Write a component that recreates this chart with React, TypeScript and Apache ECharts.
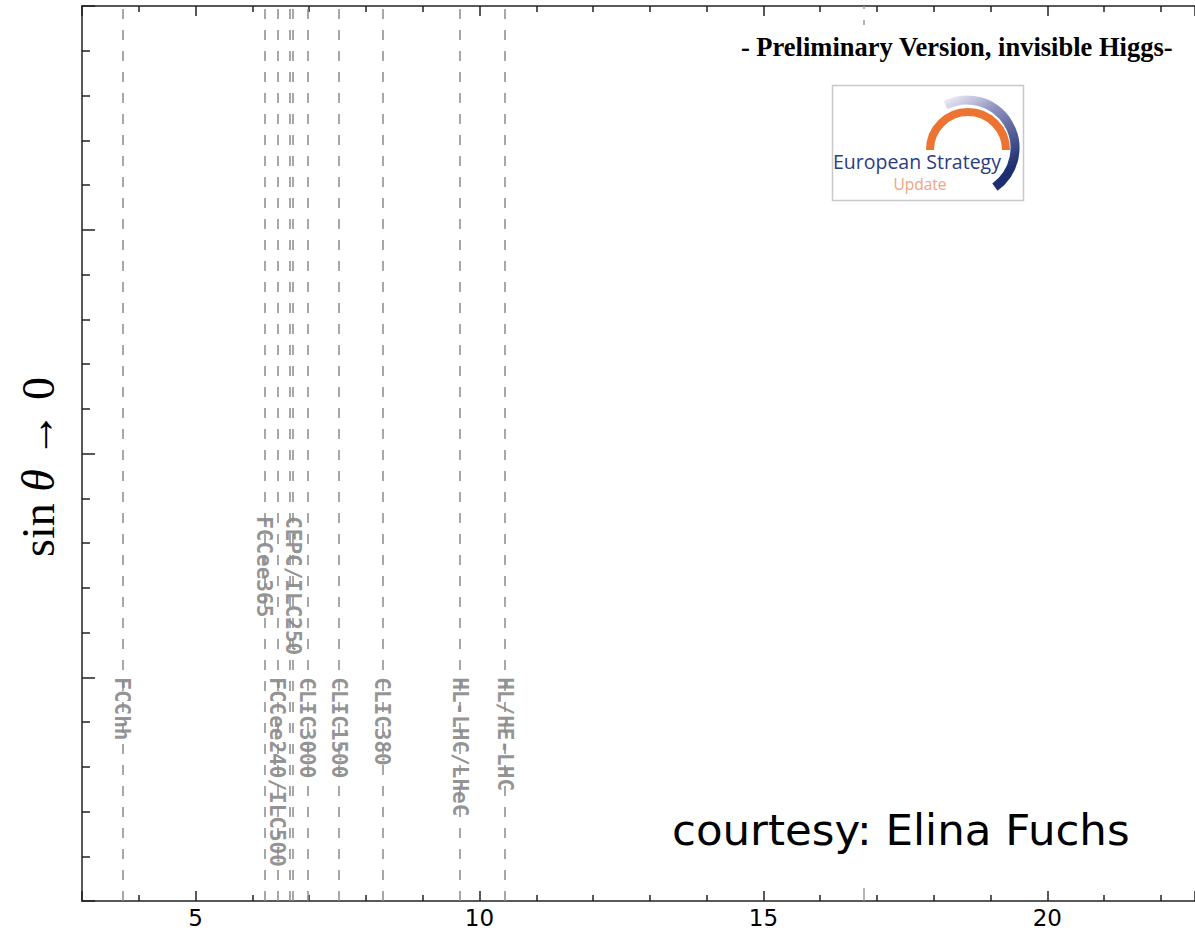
import React, { useEffect, useRef } from "react";
import * as echarts from "echarts";

// Dashed reference lines (x value) and their labels
const lineX = [3.71, 6.21, 6.44, 6.66, 6.71, 6.97, 7.53, 8.29, 9.66, 10.45];
const lineNames = [
  "FCChh",
  "FCCee365",
  "FCCee240/ILC500",
  "",
  "CEPC/ILC250",
  "CLIC3000",
  "CLIC1500",
  "CLIC380",
  "HL-LHC/LHeC",
  "HL/HE-LHC",
];
// y value where each label starts (text runs downward)
const labelY = [1.0, 1.72, 1.0, null, 1.72, 1.0, 1.0, 1.0, 1.0, 1.0];
// faint extra marker in the reference
const extraMarkX = [16.76];

const xMin = 3;
const xMax = 22.6;
const yMin = 0;
const yMax = 4;

const titleText = "- Preliminary Version, invisible Higgs-";
const courtesyText = "courtesy: Elina Fuchs";

export default function App() {
  const ref = useRef<HTMLDivElement>(null);
  useEffect(() => {
    if (!ref.current) return;
    const chart = echarts.init(ref.current, null, { renderer: "svg" });
    const axisColor = "#222";
    const xAxisBase = {
      type: "value",
      min: xMin,
      max: xMax,
      splitNumber: 4,
      minInterval: 5,
      maxInterval: 5,
      axisLine: { show: true, onZero: false, lineStyle: { color: axisColor, width: 1.5 } },
      axisTick: { show: true, inside: true, length: 10, lineStyle: { color: axisColor, width: 1.5 } },
      minorTick: { show: true, splitNumber: 5, length: 6, lineStyle: { color: axisColor, width: 1.5 } },
      splitLine: { show: false },
      minorSplitLine: { show: false },
    };
    const labelData = lineX
      .map((x, i) => (labelY[i] == null ? null : [x, labelY[i], lineNames[i]]))
      .filter((d) => d !== null);
    const option: any = {
      animation: false,
      backgroundColor: "#fff",
      title: {
        text: titleText,
        right: 22,
        top: 33,
        padding: 0,
        textStyle: {
          fontFamily: "Liberation Serif",
          fontWeight: "bold",
          fontSize: 26.5,
          color: "#000",
        },
      },
      grid: { left: 82, right: 0, top: 6, bottom: 31, containLabel: false },
      xAxis: [
        {
          ...xAxisBase,
          position: "bottom",
          axisLabel: {
            show: true,
            showMinLabel: false,
            showMaxLabel: false,
            fontFamily: "DejaVu Sans",
            fontSize: 23,
            lineHeight: 23,
            color: "#000",
            margin: 5,
          },
        },
        {
          ...xAxisBase,
          position: "top",
          axisLabel: { show: false },
        },
      ],
      yAxis: [
        {
          type: "value",
          min: yMin,
          max: yMax,
          interval: 1,
          axisLine: { show: true, onZero: false, lineStyle: { color: axisColor, width: 1.5 } },
          axisTick: { show: true, inside: true, length: 13, lineStyle: { color: axisColor, width: 1.5 } },
          minorTick: { show: true, splitNumber: 5, length: 8, lineStyle: { color: axisColor, width: 1.5 } },
          axisLabel: { show: false },
          splitLine: { show: false },
          minorSplitLine: { show: false },
        },
      ],
      series: [
        {
          type: "scatter",
          z: 2,
          xAxisIndex: 0,
          yAxisIndex: 0,
          symbolSize: 0,
          silent: true,
          data: labelData,
          label: {
            show: true,
            position: "inside",
            rotate: -90,
            align: "left",
            verticalAlign: "middle",
            formatter: (p: any) => p.data[2],
            fontFamily: "DejaVu Sans Mono",
            fontWeight: "bold",
            fontSize: 21,
            color: "#777777",
          },
        },
        {
          type: "line",
          z: 5,
          xAxisIndex: 0,
          yAxisIndex: 0,
          data: [],
          markLine: {
            silent: true,
            symbol: ["none", "none"],
            label: { show: false },
            lineStyle: { type: [10, 11], color: "#8a8a8a", width: 1.5 },
            data: [
              ...lineX.map((v) => ({ xAxis: v })),
              ...extraMarkX.map((v) => ({
                xAxis: v,
                lineStyle: { type: [13, 863, 5, 11, 4, 200], color: "#9a9a9a", width: 1.5 },
              })),
            ],
          },
        },
      ],
      graphic: [
        {
          type: "text",
          x: 38,
          y: 467,
          rotation: Math.PI / 2,
          style: {
            text: "{n|sin }{i|θ}{n| → 0}",
            align: "center",
            verticalAlign: "middle",
            fill: "#000",
            rich: {
              n: { fontFamily: "Liberation Serif", fontSize: 46, fill: "#000" },
              i: { fontFamily: "Liberation Serif", fontStyle: "italic", fontSize: 46, fill: "#000" },
            },
          },
        },
        {
          type: "text",
          x: 672,
          y: 830,
          style: {
            text: courtesyText,
            fontFamily: "DejaVu Sans",
            fontSize: 43.5,
            fill: "#000",
            align: "left",
            verticalAlign: "middle",
          },
        },
        {
          type: "group",
          children: [
            {
              type: "rect",
              shape: { x: 832.5, y: 85.5, width: 191, height: 115 },
              style: { fill: "#fff", stroke: "#c8c8c8", lineWidth: 1.5 },
            },
            {
              type: "arc",
              shape: { cx: 968, cy: 150, r: 38, startAngle: Math.PI, endAngle: 2 * Math.PI, clockwise: true },
              style: { stroke: "#ec7331", lineWidth: 8, fill: null },
            },
            {
              type: "arc",
              shape: { cx: 967, cy: 148, r: 48, startAngle: 4.25, endAngle: 2 * Math.PI + 0.95, clockwise: true },
              style: {
                fill: null,
                lineWidth: 9,
                stroke: new echarts.graphic.LinearGradient(0, 0, 0.5, 1, [
                  { offset: 0, color: "#eceaf4" },
                  { offset: 0.35, color: "#8f93c0" },
                  { offset: 1, color: "#1d2f72" },
                ]),
              },
            },
            {
              type: "text",
              x: 833,
              y: 161,
              style: {
                text: "European Strategy",
                fontFamily: "Open Sans",
                fontSize: 19.5,
                lineHeight: 18,
                fill: "#2b3c84",
                align: "left",
                verticalAlign: "middle",
              },
            },
            {
              type: "text",
              x: 920,
              y: 184,
              style: {
                text: "Update",
                fontFamily: "Open Sans",
                fontSize: 15.5,
                lineHeight: 13,
                fill: "#f4a27c",
                align: "center",
                verticalAlign: "middle",
              },
            },
          ],
        },
      ],
    };
    chart.setOption(option);
    return () => chart.dispose();
  }, []);
  return (
    <div
      ref={ref}
      style={{ position: "fixed", left: 0, top: 0, width: 1195, height: 932, background: "#fff" }}
    />
  );
}
